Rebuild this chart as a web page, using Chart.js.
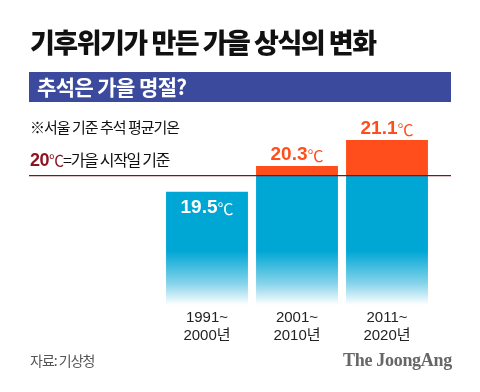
<!DOCTYPE html>
<html>
<head>
<meta charset="utf-8">
<script src="https://cdn.jsdelivr.net/npm/chart.js"></script>
<style>
  body { margin: 0; background: #fff; font-family: "Noto Sans CJK KR", sans-serif; }
  #wrap { position: relative; width: 480px; height: 392px; overflow: hidden; }
  canvas { position: absolute; left: 0; top: 0; }
  .t { position: absolute; white-space: nowrap; line-height: 1; }
  #title { left: 30px; top: 28px; font-size: 27px; font-weight: 900; letter-spacing: -1.5px; color: #111; }
  #banner { left: 29px; top: 72px; width: 422px; height: 30px; background: #3c4a9e; }
  #sub { left: 37px; top: 76px; font-size: 21px; font-weight: 700; letter-spacing: -0.6px; color: #fff; }
  #note { left: 30px; top: 119px; font-size: 15px; letter-spacing: -1px; color: #111; }
  #rule { left: 30px; top: 151px; font-size: 16px; letter-spacing: -1.3px; color: #111; }
  #rule b { color: #8b1423; font-family: "Liberation Sans", sans-serif; font-weight: 700; font-size: 18px; letter-spacing: -0.5px; }
  #rule span { color: #8b1423; font-size: 15px; letter-spacing: -1px; }
  #src { left: 30px; top: 353px; font-size: 14px; letter-spacing: -1px; color: #555; }
  #logo { left: 343px; top: 351px; font-family: "Liberation Serif", serif; font-weight: 700; font-size: 18px; color: #666; letter-spacing: -0.3px; }
</style>
</head>
<body>
<div id="wrap">
  <canvas id="myChart" width="480" height="392"></canvas>
  <div class="t" id="title">기후위기가 만든 가을 상식의 변화</div>
  <div class="t" id="banner"></div>
  <div class="t" id="sub">추석은 가을 명절?</div>
  <div class="t" id="note">※서울 기준 추석 평균기온</div>
  <div class="t" id="rule"><b>20</b><span>℃</span>=가을 시작일 기준</div>
  <div class="t" id="src">자료: 기상청</div>
  <div class="t" id="logo">The JoongAng</div>
</div>
<script>
const periods = [["1991~", "2000년"], ["2001~", "2010년"], ["2011~", "2020년"]];
const temps = [19.5, 20.3, 21.1];
const threshold = 20;
const baseTemps = temps.map(v => Math.min(v, threshold));
const overTemps = temps.map(v => Math.max(v - threshold, 0));

const blue = "#00a7d5";
const orange = "#ff4e1c";
const lineRed = "#7b1322";
const numFont = "700 19px 'Liberation Sans', 'Noto Sans CJK KR'";
const degFont = "400 16px 'Noto Sans CJK KR'";
const catFont = "400 15px 'Liberation Sans', 'Noto Sans CJK KR'";
const ctx = document.getElementById("myChart");

// fade the blue bars into white at the bottom
function blueFade(c) {
  const a = c.chart.chartArea;
  if (!a) return blue;
  const g = c.chart.ctx.createLinearGradient(0, a.bottom - 54, 0, a.bottom);
  g.addColorStop(0, blue);
  g.addColorStop(0.6, "#86d3ea");
  g.addColorStop(1, "#ffffff");
  return g;
}

// threshold line, value labels and period labels
const extras = {
  id: "extras",
  afterDatasetsDraw(chart) {
    const c = chart.ctx;
    const x = chart.scales.x;
    const y = chart.scales.y;
    const a = chart.chartArea;
    const ty = y.getPixelForValue(threshold);
    c.save();
    c.strokeStyle = lineRed;
    c.lineWidth = 1.3;
    c.beginPath();
    c.moveTo(29, ty);
    c.lineTo(451, ty);
    c.stroke();

    c.textBaseline = "middle";
    temps.forEach((v, i) => {
      const cx = x.getPixelForValue(i);
      const top = y.getPixelForValue(v);
      const num = v.toFixed(1);
      const inside = v < threshold;
      const ly = inside ? top + 16 : top - 11;
      c.fillStyle = inside ? "#ffffff" : orange;
      c.font = numFont;
      const w1 = c.measureText(num).width;
      c.font = degFont;
      const w2 = c.measureText("℃").width;
      const sx = cx - (w1 + w2) / 2;
      c.font = numFont;
      c.textAlign = "left";
      c.fillText(num, sx, ly);
      c.font = degFont;
      c.fillText("℃", sx + w1, ly + 1);

      c.fillStyle = "#222";
      c.font = catFont;
      c.textAlign = "center";
      c.fillText(periods[i][0], cx, a.bottom + 13);
      c.fillText(periods[i][1], cx, a.bottom + 31);
    });
    c.restore();
  }
};

new Chart(ctx, {
  type: "bar",
  data: {
    labels: periods.map(p => p.join(" ")),
    datasets: [
      { label: "base", data: baseTemps, backgroundColor: blueFade, barPercentage: 0.91, categoryPercentage: 1 },
      { label: "over", data: overTemps, backgroundColor: orange, barPercentage: 0.91, categoryPercentage: 1 },
    ],
  },
  options: {
    responsive: false,
    animation: false,
    layout: { padding: { left: 162, right: 48, top: 111, bottom: 87 } },
    plugins: { legend: { display: false }, tooltip: { enabled: false } },
    scales: {
      x: { stacked: true, display: false },
      y: { stacked: true, display: false, min: 16, max: 22 },
    },
  },
  plugins: [extras],
});
</script>
</body>
</html>
